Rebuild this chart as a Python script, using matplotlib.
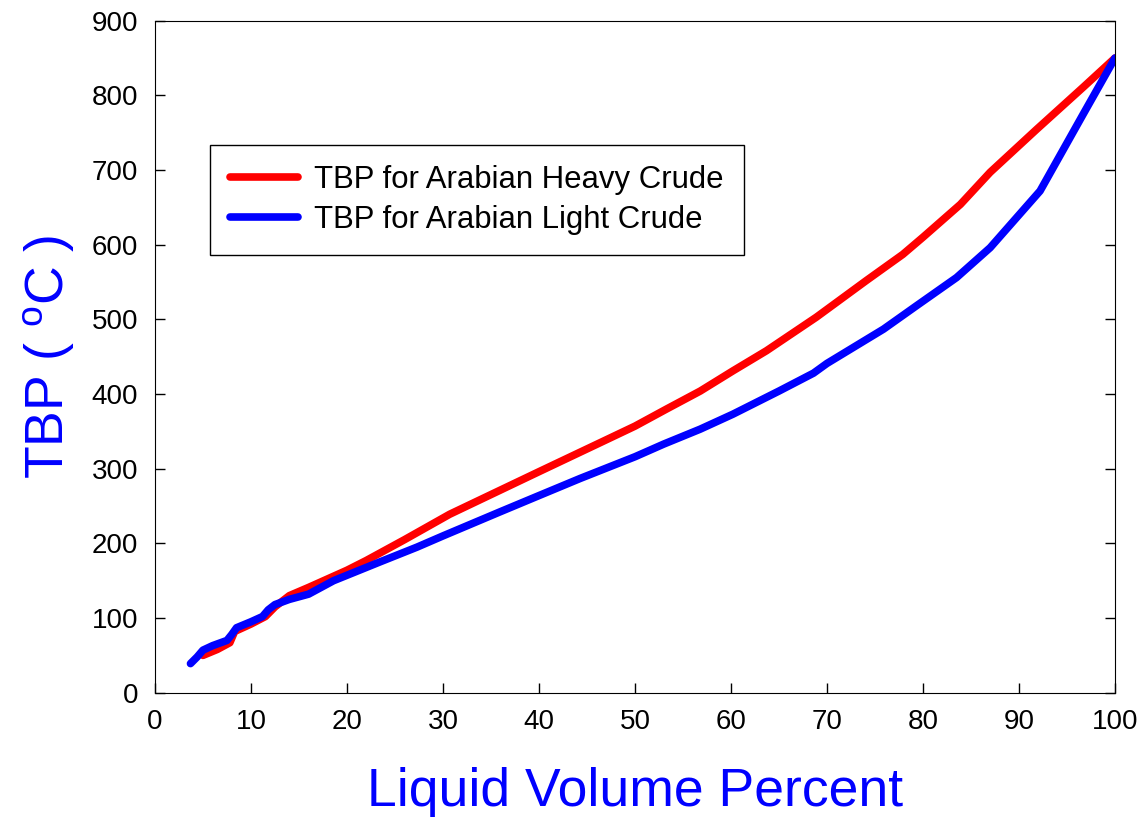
import matplotlib.pyplot as plt

plt.rcParams['font.family'] = ['Liberation Sans', 'DejaVu Sans']

# TBP curves (liquid volume %, temperature in C)
heavy_lv = [5.0, 6.5, 7.8, 8.3, 10.0, 11.5, 12.5, 14.0, 16.0, 20.0, 22.0, 26.0,
            30.7, 40.0, 46.4, 50.0, 53.3, 56.8, 60.2, 63.7, 68.9, 74.1,
            77.9, 80.0, 83.9, 87.0, 91.8, 96.7, 100.0]
heavy_tbp = [50, 58, 67, 82, 92, 102, 115, 130, 141, 164, 177, 205,
             239, 296, 335, 357, 380, 404, 431, 458, 503, 552,
             587, 610, 654, 697, 754, 811, 850]

light_lv = [3.7, 4.4, 5.0, 6.0, 7.5, 8.0, 8.5, 10.0, 11.2, 11.8, 12.5, 14.0, 16.0,
            18.6, 23.4, 27.3, 30.0, 35.9, 40.0, 44.3, 50.0, 53.0, 56.8, 60.2,
            65.0, 68.6, 70.0, 75.9, 79.3, 83.5, 87.0, 92.2, 96.7, 100.0]
light_tbp = [39, 48, 57, 63, 70, 78, 87, 95, 102, 111, 118, 125, 132,
             150, 175, 195, 210, 242, 264, 287, 316, 333, 353, 373,
             404, 428, 441, 487, 518, 556, 596, 672, 775, 850]

fig = plt.figure(figsize=(11.42, 8.19), dpi=100)
ax = fig.add_axes([0.1357, 0.1542, 0.8406, 0.8205])

ax.plot(heavy_lv, heavy_tbp, color='#ff0000', lw=5.5, solid_capstyle='round',
        solid_joinstyle='round', label='TBP for Arabian Heavy Crude')
ax.plot(light_lv, light_tbp, color='#0000ff', lw=5.5, solid_capstyle='round',
        solid_joinstyle='round', label='TBP for Arabian Light Crude')

ax.set_xlim(0, 100)
ax.set_ylim(0, 900)
ax.set_xticks(range(0, 101, 10))
ax.set_yticks(range(0, 901, 100))
ax.tick_params(axis='both', direction='in', length=7, width=1, labelsize=20, pad=12)
ax.tick_params(axis='y', right=True)

ax.set_xlabel('Liquid Volume Percent', fontsize=38.5, color='#0000ff', labelpad=23)
ax.set_ylabel('TBP ( $^{\\mathregular{o}}$C )', fontsize=38.5, color='#0000ff', labelpad=11)

leg = ax.legend(loc='upper left', bbox_to_anchor=(0.057, 0.815), borderaxespad=0,
                fontsize=22.4, fancybox=False, framealpha=1, edgecolor='black',
                handlelength=2.2, handletextpad=0.5, borderpad=0.65, labelspacing=0.3)
leg.get_frame().set_linewidth(1)

fig.savefig('out.png', dpi=100)
